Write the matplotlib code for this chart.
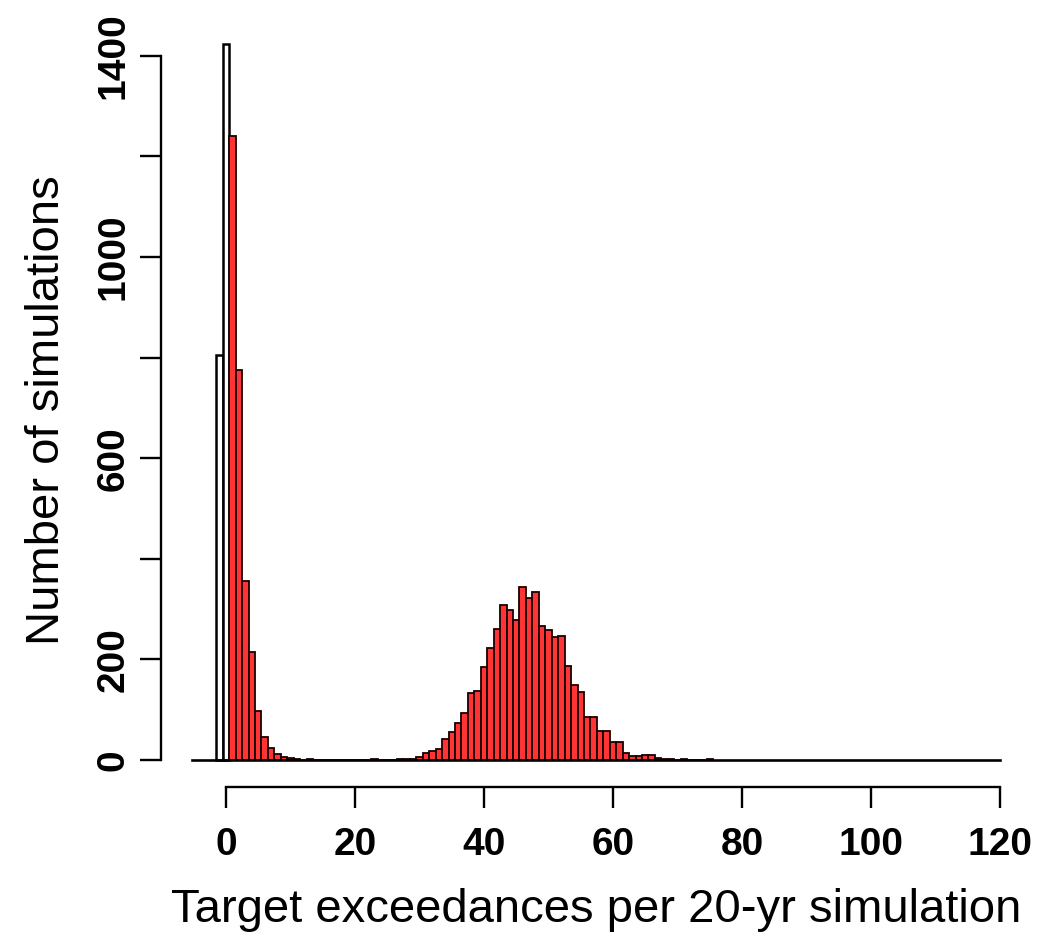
#!/usr/bin/env python3
import numpy as np
import matplotlib
matplotlib.use("Agg")
import matplotlib.pyplot as plt

# white histogram (two leftmost bins)
white_bins = [-1, 0]
white_counts = [805, 1423]

# red histogram, bins centred on 1..75
red_bins = list(range(1, 76))
red_counts = [1240, 775, 356, 215, 97, 46, 24, 12, 6, 3,
              1, 0, 2, 0, 0, 0, 0, 0, 0, 0,
              0, 0, 2, 0, 0, 0, 1, 1, 2, 6,
              14, 17, 22, 42, 56, 73, 93, 134, 138, 184,
              223, 260, 308, 298, 278, 343, 323, 334, 266, 258,
              245, 246, 186, 149, 136, 86, 86, 58, 58, 35,
              36, 13, 7, 8, 10, 9, 4, 2, 1, 0,
              2, 0, 0, 0, 2]

x_ticks = [0, 20, 40, 60, 80, 100, 120]
y_ticks = [0, 200, 400, 600, 800, 1000, 1200, 1400]
y_ticklabels = ["0", "200", "", "600", "", "1000", "", "1400"]

plt.rcParams['font.family'] = ['Liberation Sans', 'DejaVu Sans']

W, H = 1037, 943
fig = plt.figure(figsize=(W / 100, H / 100), dpi=100)

# pixel mapping: x=0 at 226px, 6.45 px/unit ; y=0 at 760px, 0.503 px/count
x0, sx = 226.0, 6.45
y0, sy = 760.0, 0.503
left, right, top, bottom = 150, 1010, 20, 840
ax = fig.add_axes([left / W, 1 - bottom / H, (right - left) / W, (bottom - top) / H])
ax.set_xlim((left - x0) / sx, (right - x0) / sx)
ax.set_ylim((y0 - bottom) / sy, (y0 - top) / sy)

ax.bar(white_bins, white_counts, width=1.0, color="white",
       edgecolor="black", linewidth=1.8, zorder=2)
ax.bar(red_bins, red_counts, width=1.0, color="#ff3434",
       edgecolor="#1a0000", linewidth=1.3, zorder=3)

# baseline
ax.plot([-5.2, 120], [0, 0], color="black", lw=1.9, zorder=4)

for s in ["top", "right"]:
    ax.spines[s].set_visible(False)
ax.spines["left"].set_position(("data", (161 - x0) / sx))
ax.spines["left"].set_bounds(0, 1400)
ax.spines["bottom"].set_position(("data", (y0 - 787) / sy))
ax.spines["bottom"].set_bounds(0, 120)
for s in ["left", "bottom"]:
    ax.spines[s].set_linewidth(1.7)

ax.set_xticks(x_ticks)
ax.set_xticklabels([str(t) for t in x_ticks], fontsize=28, fontweight="bold")
ax.set_yticks(y_ticks)
ax.set_yticklabels(y_ticklabels, fontsize=28, fontweight="bold",
                   rotation=90, va="center")
ax.tick_params(axis="both", direction="out", length=15, width=1.7)
ax.tick_params(axis="x", pad=14)
ax.tick_params(axis="y", pad=6)

ax.set_xlabel("Target exceedances per 20-yr simulation", fontsize=34, labelpad=18)
ax.set_ylabel("Number of simulations", fontsize=34, labelpad=19)
ax.xaxis.label.set_x((596 - left) / (right - left))
ax.yaxis.label.set_y((bottom - 410) / (bottom - top))

fig.savefig("out.png", dpi=100)
